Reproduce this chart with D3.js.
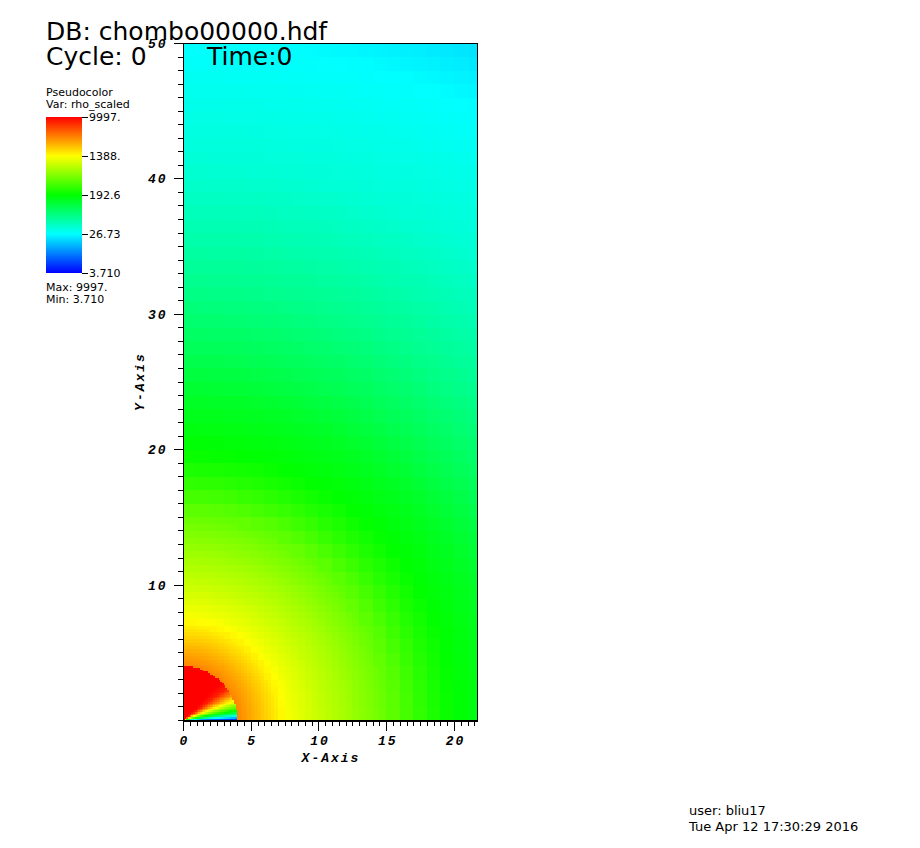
<!DOCTYPE html>
<html><head><meta charset="utf-8">
<script src="https://cdn.jsdelivr.net/npm/d3@7"></script>
<style>
body{margin:0;background:#fff;}
svg{display:block;}
.ann{font-family:"DejaVu Sans",sans-serif;fill:#000;}
.tick-lbl{font-family:"Liberation Mono",monospace;font-weight:bold;font-style:italic;font-size:13px;letter-spacing:2px;}
</style></head>
<body>
<script>
// ---- data ----
const xDomain = [0, 21.7];
const yDomain = [0, 50];
const xMajorTicks = [0, 5, 10, 15, 20];
const yMajorTicks = [10, 20, 30, 40, 50];
// outer region: density vs spherical radius
const radialR   = [4, 5, 6, 7, 8, 10, 12, 15, 18, 20, 23.5, 27, 32, 36, 41, 46, 50, 55];
const radialRho = [3580, 2720, 2060, 1560, 1230, 900, 680, 425, 255, 193, 146, 102, 66, 50, 37, 31, 26.7, 20.5];
// inner sphere (r < 4): density vs polar angle from the x axis (degrees)
const sphereRadius = 4.0;
const innerAngle = [0, 1, 3.5, 6, 10, 15, 21, 28, 36, 45, 90];
const innerRho   = [3.71, 5.96, 21.1, 58.9, 192.6, 497, 1388, 3580, 7889, 9997, 9997];
// legend
const legendMin = 3.710, legendMax = 9997;
const legendLabels = ["9997.", "1388.", "192.6", "26.73", "3.710"];
const legendValues = [9997, 1388, 192.6, 26.73, 3.710];
const hotStops = [0, 0.25, 0.5, 0.75, 1];
const hotColors = ["#0000ff", "#00ffff", "#00ff00", "#ffff00", "#ff0000"];

const W = 920, H = 848;
const svg = d3.select("body").append("svg").attr("width", W).attr("height", H);
svg.append("rect").attr("width", W).attr("height", H).attr("fill", "#fff");

const x = d3.scaleLinear().domain(xDomain).range([183, 477]);
const y = d3.scaleLinear().domain(yDomain).range([720, 43]);

const hot = d3.scaleLinear().domain(hotStops).range(hotColors).clamp(true);
const tScale = d3.scaleLog().domain([legendMin, legendMax]).range([0, 1]).clamp(true);
const radialLog = d3.scaleLinear().domain(radialR).range(radialRho.map(Math.log10)).clamp(true);
const angleLog = d3.scaleLinear().domain(innerAngle).range(innerRho.map(Math.log10)).clamp(true);

function rhoAt(cx, cy) {
  const r = Math.hypot(cx, cy);
  if (r < sphereRadius) {
    const th = Math.atan2(cy, cx) * 180 / Math.PI;
    return Math.pow(10, angleLog(th));
  }
  return Math.pow(10, radialLog(r));
}

// AMR-like mesh
const splitLimit = {1: 15, 0.5: 7, 0.25: 4.8};
const cells = [];
function addCell(x0, y0, s) {
  if (x0 >= xDomain[1]) return;
  const w = Math.min(x0 + s, xDomain[1]) - x0;
  const cx = x0 + w / 2, cy = y0 + s / 2;
  const r = Math.hypot(x0 + s / 2, cy);
  if (s > 0.125 && r < splitLimit[s]) {
    const h = s / 2;
    addCell(x0, y0, h); addCell(x0 + h, y0, h);
    addCell(x0, y0 + h, h); addCell(x0 + h, y0 + h, h);
    return;
  }
  cells.push({x0, y0, w, s, v: rhoAt(cx, cy)});
}
for (let i = 0; i < Math.ceil(xDomain[1]); i++)
  for (let j = 0; j < yDomain[1]; j++) addCell(i, j, 1);

svg.append("g").attr("shape-rendering", "crispEdges")
  .selectAll("rect").data(cells).join("rect")
  .attr("x", d => x(d.x0))
  .attr("y", d => y(d.y0 + d.s))
  .attr("width", d => x(d.x0 + d.w) - x(d.x0) + 0.5)
  .attr("height", d => y(d.y0) - y(d.y0 + d.s) + 0.5)
  .attr("fill", d => hot(tScale(d.v)));

// frame
svg.append("rect").attr("x", x(0)).attr("y", y(50)).attr("width", x(xDomain[1]) - x(0))
  .attr("height", y(0) - y(50)).attr("fill", "none").attr("stroke", "#000")
  .attr("shape-rendering", "crispEdges");

// axes
const gx = svg.append("g").attr("transform", `translate(0,${y(0) + 0.5})`).attr("shape-rendering", "crispEdges");
gx.call(d3.axisBottom(x).tickValues(d3.range(0, xDomain[1], 0.5)).tickSize(5).tickSizeOuter(0).tickFormat(""));
const gx2 = svg.append("g").attr("transform", `translate(0,${y(0) + 0.5})`).attr("shape-rendering", "crispEdges");
gx2.call(d3.axisBottom(x).tickValues(xMajorTicks).tickSize(10).tickSizeOuter(0).tickPadding(8));
[gx, gx2].forEach(g => { g.select(".domain").attr("stroke", "#000"); g.selectAll("line").attr("stroke", "#000"); });
gx2.selectAll("text").attr("class", "tick-lbl").attr("fill", "#000").attr("dy", null).attr("y", 24.5).attr("dx", 1);

const gy = svg.append("g").attr("transform", `translate(${x(0) - 0.5},0)`).attr("shape-rendering", "crispEdges");
gy.call(d3.axisLeft(y).tickValues(d3.range(0, 51, 1)).tickSize(5).tickSizeOuter(0).tickFormat(""));
const gy2 = svg.append("g").attr("transform", `translate(${x(0) - 0.5},0)`).attr("shape-rendering", "crispEdges");
gy2.call(d3.axisLeft(y).tickValues(yMajorTicks).tickSize(9).tickSizeOuter(0).tickPadding(6));
[gy, gy2].forEach(g => { g.select(".domain").attr("stroke", "#000"); g.selectAll("line").attr("stroke", "#000"); });
gy2.selectAll("text").attr("class", "tick-lbl").attr("fill", "#000").attr("dy", "0.35em");

svg.append("text").attr("class", "tick-lbl").attr("x", 331).attr("y", 762)
  .attr("text-anchor", "middle").text("X-Axis");
svg.append("text").attr("class", "tick-lbl")
  .attr("transform", `translate(144,${(y(0) + y(50)) / 2}) rotate(-90)`)
  .attr("text-anchor", "middle").text("Y-Axis");

// annotations
svg.append("text").attr("class", "ann").attr("x", 46).attr("y", 40).attr("font-size", 25).text("DB: chombo00000.hdf");
svg.append("text").attr("class", "ann").attr("x", 46).attr("y", 65).attr("font-size", 25).text("Cycle: 0");
svg.append("text").attr("class", "ann").attr("x", 207).attr("y", 65).attr("font-size", 25).text("Time:0");

svg.append("text").attr("class", "ann").attr("x", 46).attr("y", 96).attr("font-size", 11).text("Pseudocolor");
svg.append("text").attr("class", "ann").attr("x", 46).attr("y", 108).attr("font-size", 11).text("Var: rho_scaled");

const defs = svg.append("defs");
const grad = defs.append("linearGradient").attr("id", "hotgrad")
  .attr("x1", 0).attr("y1", 1).attr("x2", 0).attr("y2", 0);
grad.selectAll("stop").data(hotStops).join("stop")
  .attr("offset", d => d).attr("stop-color", (d, i) => hotColors[i]);

const ly = d3.scaleLog().domain([legendMin, legendMax]).range([273, 117]);
svg.append("rect").attr("x", 46).attr("y", ly(legendMax)).attr("width", 36)
  .attr("height", ly(legendMin) - ly(legendMax)).attr("fill", "url(#hotgrad)");
const lg = svg.append("g");
lg.selectAll("line").data(legendValues).join("line")
  .attr("x1", 82).attr("x2", 88).attr("y1", d => Math.round(ly(d)) + 0.5).attr("y2", d => Math.round(ly(d)) + 0.5)
  .attr("stroke", "#000");
lg.selectAll("text").data(legendLabels).join("text").attr("class", "ann")
  .attr("x", 89).attr("y", (d, i) => ly(legendValues[i])).attr("dy", "0.38em")
  .attr("font-size", 11).text(d => d);

svg.append("text").attr("class", "ann").attr("x", 46).attr("y", 291).attr("font-size", 11).text("Max: 9997.");
svg.append("text").attr("class", "ann").attr("x", 46).attr("y", 303).attr("font-size", 11).text("Min: 3.710");

svg.append("text").attr("class", "ann").attr("x", 689).attr("y", 815).attr("font-size", 13).text("user: bliu17");
svg.append("text").attr("class", "ann").attr("x", 689).attr("y", 831).attr("font-size", 13).text("Tue Apr 12 17:30:29 2016");
</script>
</body></html>
